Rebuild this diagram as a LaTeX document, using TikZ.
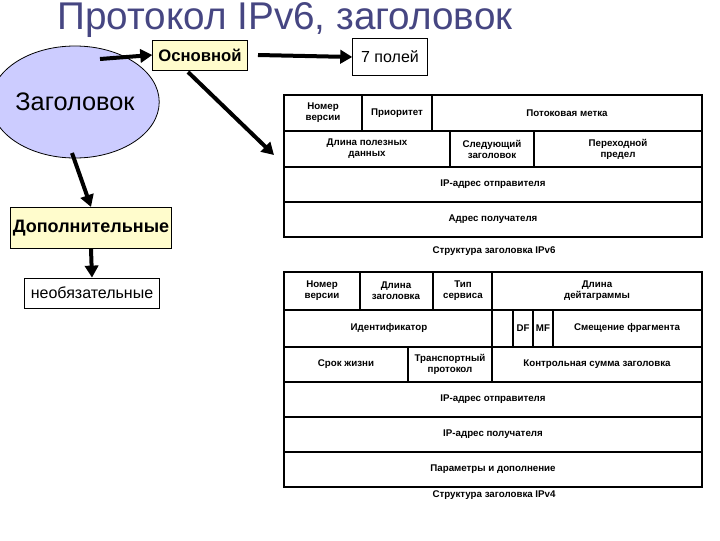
\documentclass[tikz,border=0pt]{standalone}
\usepackage{fontspec}
\setmainfont{Liberation Sans}
\usetikzlibrary{shapes.geometric,arrows.meta}
\begin{document}
\begin{tikzpicture}[x=0.75pt,y=-0.75pt,
  cell/.style={font=\fontsize{7.3}{8.3}\selectfont\bfseries,align=center,inner sep=0pt},
  arr/.style={draw,line width=3pt,-{Triangle[length=9pt,width=10pt]}},
  ybox/.style={draw,fill=yellow!20,line width=0.6pt,inner sep=0pt},
  wbox/.style={draw,line width=0.6pt,inner sep=0pt}]
\useasboundingbox (0,0) rectangle (720,540);
\node[text={rgb,255:red,70;green,70;blue,130},font=\fontsize{29}{31}\selectfont,anchor=center] (title) at (285,20) {Протокол IPv6, заголовок};
\node[ellipse,draw,fill={rgb,255:red,204;green,204;blue,255},line width=0.6pt,minimum width=102pt,minimum height=84pt,inner sep=0pt,font=\fontsize{19}{21}\selectfont] (ell) at (75,102) {Заголовок};
\node[ybox,minimum width=71pt,minimum height=22.5pt,font=\fontsize{12.5}{14}\selectfont\bfseries] (osn) at (200,55) {Основной};
\node[wbox,minimum width=56pt,minimum height=28pt,font=\fontsize{12}{14}\selectfont] (p7) at (390,57) {7 полей};
\node[ybox,minimum width=121pt,minimum height=31pt,font=\fontsize{13.5}{15}\selectfont\bfseries] (dop) at (91,228) {Дополнительные};
\node[wbox,minimum width=101pt,minimum height=22.5pt,font=\fontsize{12}{14}\selectfont] (neo) at (92,293) {необязательные};
\coordinate (e1) at (100,59);
\coordinate (e2) at (72,153);
\coordinate (o1) at (258,55);
\coordinate (o2) at (188,72);
\coordinate (t6) at (274,155);
\draw[arr] (e1) -- (osn.west);
\draw[arr] (o1) -- (p7.west);
\draw[arr] (o2) -- (t6);
\draw[arr] (e2) -- (dop.north);
\draw[arr] (dop.south) -- (neo.north);
% IPv6 table
\begin{scope}[line width=0.8pt]
\draw (284,95) rectangle (702,237);
\foreach \y in {131,167,202} \draw (284,\y) -- (702,\y);
\draw (362,95) -- (362,131); \draw (432,95) -- (432,131);
\draw (450,131) -- (450,167); \draw (534,131) -- (534,167);
\end{scope}
\node[cell] (a1) at (323,113) {Номер\\версии};
\node[cell] (a2) at (397,113) {Приоритет};
\node[cell] (a3) at (567,113) {Потоковая метка};
\node[cell] (a4) at (367,149) {Длина полезных\\данных};
\node[cell] (a5) at (492,149) {Следующий\\заголовок};
\node[cell] (a6) at (618,149) {Переходной\\предел};
\node[cell] (a7) at (493,184) {IP-адрес отправителя};
\node[cell] (a8) at (493,219) {Адрес получателя};
\node[cell] (c6) at (494,251) {Структура заголовка IPv6};
% IPv4 table
\begin{scope}[line width=0.8pt]
\draw (284,272) rectangle (702,487);
\foreach \y in {310,347,382,417,452} \draw (284,\y) -- (702,\y);
\draw (360,272) -- (360,310); \draw (433,272) -- (433,310); \draw (492,272) -- (492,382);
\draw (513,310) -- (513,347); \draw (533,310) -- (533,347); \draw (553,310) -- (553,347);
\draw (408,347) -- (408,382);
\end{scope}
\node[cell] (b1) at (322,291) {Номер\\версии};
\node[cell] (b2) at (396,291) {Длина\\заголовка};
\node[cell] (b3) at (463,291) {Тип\\сервиса};
\node[cell] (b4) at (597,291) {Длина\\дейтаграммы};
\node[cell] (b5) at (389,328) {Идентификатор};
\node[cell] (b6) at (523,328) {DF};
\node[cell] (b7) at (543,328) {MF};
\node[cell] (b8) at (627,328) {Смещение фрагмента};
\node[cell] (b9) at (346,364) {Срок жизни};
\node[cell] (b10) at (450,364) {Транспортный\\протокол};
\node[cell] (b11) at (597,364) {Контрольная сумма заголовка};
\node[cell] (b12) at (493,399) {IP-адрес отправителя};
\node[cell] (b13) at (493,434) {IP-адрес получателя};
\node[cell] (b14) at (493,469) {Параметры и дополнение};
\node[cell] (c4) at (494,495) {Структура заголовка IPv4};
\end{tikzpicture}
\end{document}
